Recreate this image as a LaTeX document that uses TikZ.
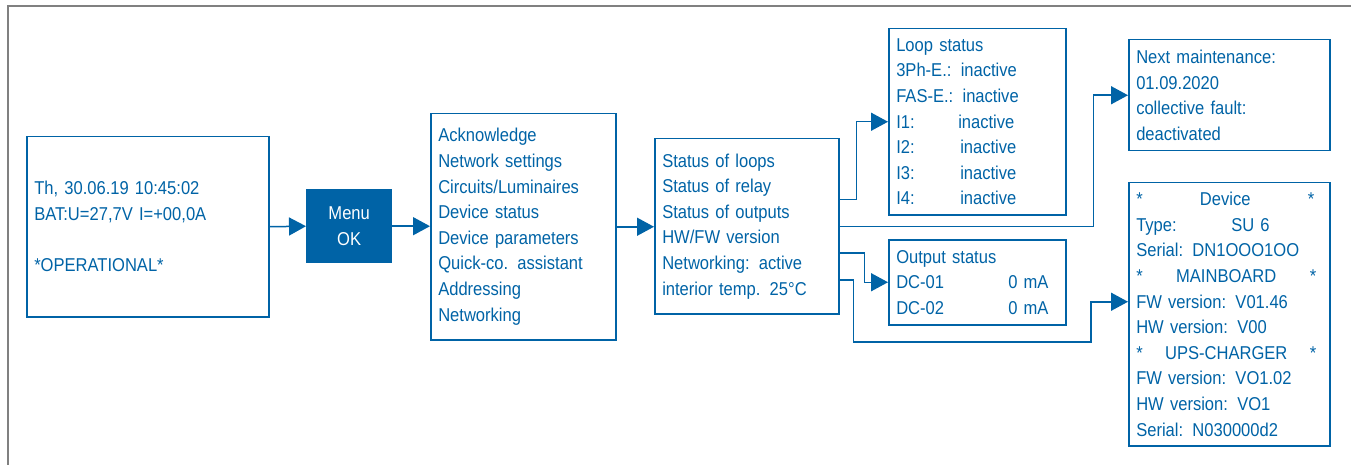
\documentclass[tikz,border=0pt]{standalone}
\usepackage{fontspec}
\setmainfont{Liberation Sans}[FakeStretch=0.89]
\usetikzlibrary{arrows.meta,calc}
\definecolor{ledblue}{RGB}{0,99,166}
\definecolor{framegray}{RGB}{128,128,128}
\newcommand\screenfont{\fontsize{18.6pt}{25.6pt}\selectfont\spaceskip=3.8pt plus 1pt minus 1pt\relax}
\tikzset{
  screen/.style = {
    draw=ledblue, line width=1.5pt, text=ledblue,
    anchor=north west, align=left, inner xsep=7.5pt, inner ysep=0pt,
    font=\screenfont
  },
  key/.style = {
    fill=ledblue, text=white, anchor=north west, align=center, inner sep=0pt,
    font=\screenfont
  },
  flow/.style = {draw=ledblue, line width=1.5pt, ->}
}
\tikzset{>={Triangle[length=17pt,width=18pt]}}

\begin{document}
\begin{tikzpicture}[x=1pt,y=-1pt]
  \useasboundingbox (0,0) rectangle (1351,465);
  % frame
  \draw[framegray, line width=1.5pt] (8,465) -- (8,6) -- (1351,6);
  % screens
  \node[screen, minimum width=242pt, minimum height=180pt, text width=227pt] (home) at (26,136)
    {Th, 30.06.19 10:45:02\\ BAT:U=27,7V I=+00,0A\\[25.6pt] *OPERATIONAL*};
  \node[key, minimum width=86pt, minimum height=74pt] (menu) at (306,189) {Menu\\ OK};
  \node[screen, minimum width=185pt, minimum height=226pt, text width=170pt] (main) at (430,113)
    {Acknowledge\\ Network settings\\ Circuits/Luminaires\\ Device status\\ Device parameters\\
     Quick-co. assistant\\ Addressing\\ Networking};
  \node[screen, minimum width=184pt, minimum height=175pt, text width=169pt] (info) at (654,138)
    {Status of loops\\ Status of relay\\ Status of outputs\\ HW/FW version\\
     Networking: active\\ interior temp. 25°C};
  \node[screen, minimum width=177pt, minimum height=186pt, text width=162pt] (loop) at (888,28)
    {Loop status\\ 3Ph-E.: inactive\\ FAS-E.: inactive\\ \makebox[62pt][l]{I1:}inactive\\
     \makebox[64pt][l]{I2:}inactive\\ \makebox[64pt][l]{I3:}inactive\\ \makebox[64pt][l]{I4:}inactive};
  \node[screen, minimum width=177pt, minimum height=85pt, text width=162pt] (out) at (888,239)
    {Output status\\ \makebox[112pt][l]{DC-01}0 mA\\ \makebox[112pt][l]{DC-02}0 mA};
  \node[screen, minimum width=201pt, minimum height=111pt, text width=186pt] (maint) at (1128,39)
    {Next maintenance:\\ 01.09.2020\\ collective fault:\\ deactivated};
  \node[screen, minimum width=201pt, minimum height=263pt, text width=186pt] (dev) at (1128,182)
    {\makebox[178pt]{*\hfill Device\hfill *}\\ \makebox[95pt][l]{Type:}SU 6\\ Serial: DN1OOO1OO\\
     \makebox[180pt]{*\hfill MAINBOARD\hfill *}\\ FW version: V01.46\\ HW version: V00\\
     \makebox[180pt]{*\hfill UPS-CHARGER\hfill *}\\ FW version: VO1.02\\ HW version: VO1\\
     Serial: N030000d2};
  % outlets of the info screen
  \coordinate (o1) at ($(info.east)+(0,-26.5)$);
  \coordinate (o3) at ($(info.east)+(0,26.5)$);
  \coordinate (o4) at ($(info.east)+(0,53.5)$);
  \coordinate (d1) at ($(dev.west)+(0,-12.5)$);
  % connectors
  \draw[flow] (home.east) -- (menu.west);
  \draw[flow] (menu.east) -- (main.west |- menu.east);
  \draw[flow] (main.east) -- (info.west |- main.east);
  \draw[flow] (o1) -- ++(17,0) |- (loop.west);
  \draw[flow] (info.east) -- ++(254,0) |- (maint.west);
  \draw[flow] (o3) -- ++(25,0) |- (out.west);
  \draw[flow] (o4) -- ++(14,0) |- ($(d1)+(-37,40)$) |- (d1);
\end{tikzpicture}
\end{document}
